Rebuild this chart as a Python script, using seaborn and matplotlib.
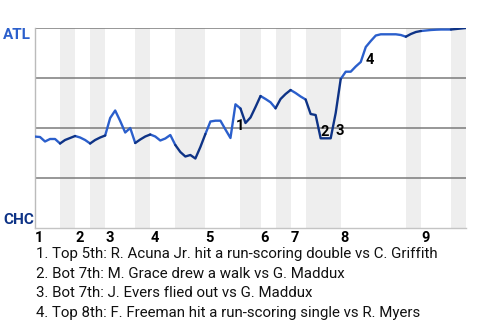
import matplotlib
matplotlib.use("Agg")
import matplotlib.pyplot as plt
import seaborn as sns
import pandas as pd
import numpy as np

# ---------------- data ----------------
# plate appearances per half inning (top1, bot1, top2, ...)
half_pa = [5, 3, 3, 3, 6, 3, 5, 6, 7, 4, 3, 3, 3, 7, 13, 3, 6, 3]
# ATL win probability after each event (index 0 = game start)
wp_atl = [0.457, 0.455, 0.4325, 0.445, 0.445, 0.4225, 0.44, 0.45, 0.46, 0.4525,
          0.44, 0.4225, 0.44, 0.4525, 0.4625, 0.55, 0.5875, 0.535, 0.4775, 0.50,
          0.425, 0.4425, 0.4575, 0.4675, 0.4575, 0.4375, 0.4475, 0.465, 0.415, 0.38,
          0.3575, 0.365, 0.3475, 0.405, 0.47, 0.5325, 0.5365, 0.5365, 0.4925, 0.45,
          0.6185, 0.5975, 0.525, 0.5525, 0.605, 0.66, 0.645, 0.6285, 0.5985, 0.645,
          0.67, 0.69, 0.675, 0.6575, 0.6425, 0.57, 0.565, 0.4485, 0.4485, 0.4485,
          0.575, 0.745, 0.7815, 0.7815, 0.8075, 0.83, 0.905, 0.935, 0.9625, 0.9685,
          0.9685, 0.9685, 0.9685, 0.965, 0.9565, 0.97, 0.98, 0.985, 0.9875, 0.99,
          0.9915, 0.9925, 0.9925, 0.9925, 0.995, 0.9975, 1.0]
inning_labels = ["1", "2", "3", "4", "5", "6", "7", "8", "9"]
team_top = "ATL"
team_bottom = "CHC"
key_events = [40, 57, 60, 66]
key_notes = [
    "1. Top 5th: R. Acuna Jr. hit a run-scoring double vs C. Griffith",
    "2. Bot 7th: M. Grace drew a walk vs G. Maddux",
    "3. Bot 7th: J. Evers flied out vs G. Maddux",
    "4. Top 8th: F. Freeman hit a run-scoring single vs R. Myers",
]

# ---------------- styling ----------------
LIGHT = "#2b5fcc"
DARK = "#0e3386"
sns.set_style("white")
plt.rcParams["font.family"] = ["Roboto", "DejaVu Sans"]

bounds = np.concatenate([[0], np.cumsum(half_pa)])
rows = []
for h in range(len(half_pa)):
    side = "top" if h % 2 == 0 else "bottom"
    for i in range(bounds[h], bounds[h + 1] + 1):
        rows.append({"x": i, "wp": wp_atl[i], "seg": h, "side": side})
df = pd.DataFrame(rows)

fig = plt.figure(figsize=(4.8, 3.2), dpi=100)
ax = fig.add_axes([35 / 480, 1 - 228 / 320, 431 / 480, 200 / 320])

# shaded bottom halves
for h in range(1, len(half_pa), 2):
    ax.axvspan(bounds[h], bounds[h + 1], color="#eeeeee", lw=0, zorder=0)

# gridlines
for g in [0.25, 0.5, 0.75, 1.0]:
    ax.axhline(g, color="#7a7a7a", lw=1.1, zorder=1)

sns.lineplot(data=df, x="x", y="wp", hue="side", units="seg", estimator=None,
             palette={"top": LIGHT, "bottom": DARK}, legend=False, lw=1.7,
             ax=ax, zorder=3)

ax.set_xlim(0, bounds[-1])
ax.set_ylim(0, 1)
ax.set_xlabel("")
ax.set_ylabel("")
ax.set_yticks([])
inning_starts = bounds[0::2][:len(inning_labels)]
ax.set_xticks(inning_starts)
ax.set_xticklabels(inning_labels, fontsize=10.5, fontweight="bold", color="black")
for lbl in ax.get_xticklabels():
    lbl.set_ha("left")
ax.tick_params(axis="x", length=0, pad=2)
for s in ["top", "right"]:
    ax.spines[s].set_visible(False)
ax.spines["left"].set_color("#bbbbbb")
ax.spines["left"].set_linewidth(1.0)
ax.spines["bottom"].set_color("#c4c4c4")
ax.spines["bottom"].set_linewidth(1.0)

# team labels
fig.text(3 / 480, 1 - 39 / 320, team_top, color=LIGHT, fontsize=11,
         fontweight="bold", ha="left", va="baseline")
fig.text(3 / 480, 1 - 224 / 320, team_bottom, color=DARK, fontsize=11,
         fontweight="bold", ha="left", va="baseline")

# key event markers
for k, ev in enumerate(key_events, start=1):
    mid = (wp_atl[ev - 1] + wp_atl[ev]) / 2
    ax.annotate(str(k), xy=(ev, mid), xytext=(0, -5), textcoords="offset pixels",
                ha="left", va="center", fontsize=10.5, fontweight="bold",
                color="black", zorder=5)

# notes
for j, note in enumerate(key_notes):
    fig.text(36 / 480, 1 - (258 + 19.6 * j) / 320, note, fontsize=10.8,
             color="#111111", ha="left", va="baseline")

fig.savefig("out.png", dpi=100)
